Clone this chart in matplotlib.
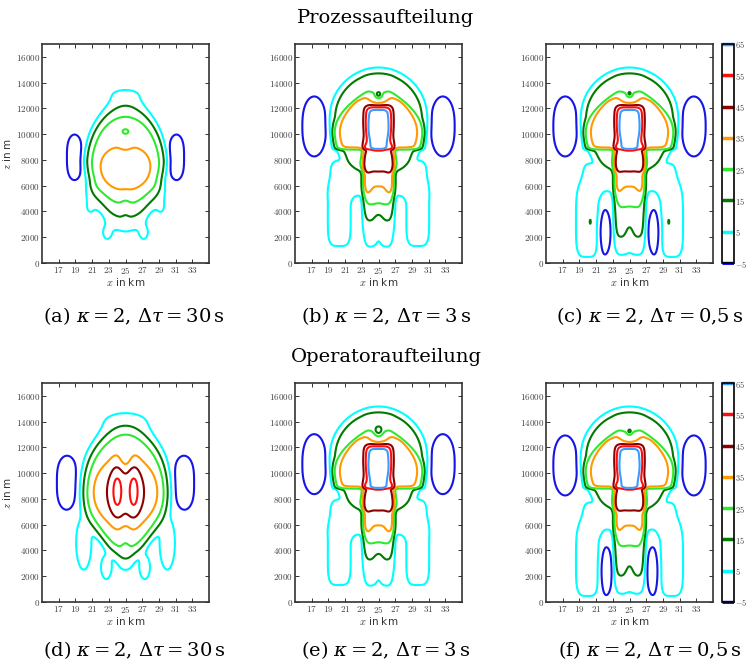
import numpy as np
import matplotlib
matplotlib.use("Agg")
import matplotlib.pyplot as plt
from matplotlib.ticker import FixedLocator, FuncFormatter

plt.rcParams['mathtext.fontset'] = 'cm'

# ---------------- data ----------------
LEVELS = [-5, 5, 15, 25, 35, 45, 55, 65]
LEVEL_COLORS = ['#1515e6', '#00ffff', '#007a00', '#2eea2e', '#ff9a00', '#8e0000', '#ff0d0d', '#3a9cff']
X_TICKS = [17, 19, 21, 23, 25, 27, 29, 31, 33]
Z_TICKS = [0, 2000, 4000, 6000, 8000, 10000, 12000, 14000, 16000]
X_RANGE = [15, 35]
Z_RANGE = [0, 17000]
X_CENTER = 25
ROW_TITLES = ['Prozessaufteilung', 'Operatoraufteilung']
CAPTIONS = [r'(a) $\kappa = 2$, $\Delta\tau = 30\,\mathrm{s}$',
            r'(b) $\kappa = 2$, $\Delta\tau = 3\,\mathrm{s}$',
            r'(c) $\kappa = 2$, $\Delta\tau = 0{,}5\,\mathrm{s}$',
            r'(d) $\kappa = 2$, $\Delta\tau = 30\,\mathrm{s}$',
            r'(e) $\kappa = 2$, $\Delta\tau = 3\,\mathrm{s}$',
            r'(f) $\kappa = 2$, $\Delta\tau = 0{,}5\,\mathrm{s}$']

# Each field is a sum of mirrored blobs:
# amplitude, x offset from centre (km), height (m), x scale (km),
# z scale below / above (m), x power, z power, outer power,
# taper (>0 narrows above the centre, <0 narrows below)
# (a) Prozessaufteilung, 30 s
A_AMP = [20, 12, 8, 5.5, -3, -4, -10, 6, 4, 6, -10]
A_DX  = [0, 0, 0, 0, 0, 0, 0, 2.2, 0, 4.2, 6.1]
A_Z0  = [7900, 8000, 7300, 13100, 4300, 9200, 10200, 2400, 2700, 4900, 8200]
A_SX  = [5.0, 4.2, 3.5, 4.0, 0.6, 0.7, 0.5, 1.1, 1.2, 1.0, 1.1]
A_SZ  = [4880, 3580, 1800, 900, 1200, 500, 250, 1200, 900, 1400, 2000]
A_SZU = [4650, 3580, 1800, 900, 1200, 500, 250, 1200, 900, 1400, 2000]
A_PX  = [2, 2, 2, 2, 2, 2, 2, 2, 2, 2, 2]
A_PZ  = [1.5, 2, 2, 2, 2, 2, 2, 2, 2, 4, 3]
A_Q   = [6, 3, 2, 1, 1, 1, 1, 1, 1, 1, 1]
A_TP  = [0, 0, 0, 0, 0, 0, 0, 0, 0, 0, 0]
# (b) Prozessaufteilung, 3 s
B_AMP = [18, 19, 30, 12, 36, 10, 10, -5, -9, -14, -14]
B_DX  = [0, 0, 0, 0, 0, 3.5, 4.7, 0, 0, 0, 7.7]
B_Z0  = [11000, 9800, 11300, 8500, 6300, 6600, 3600, 3000, 12750, 13100, 10600]
B_SX  = [5.9, 5.5, 1.6, 1.9, 1.9, 2.4, 1.5, 0.55, 1.0, 0.35, 1.4]
B_SZ  = [4100, 1000, 2200, 900, 3300, 1500, 2500, 1200, 550, 230, 2300]
B_SZU = [4100, 3500, 900, 900, 3300, 1500, 2500, 1200, 550, 230, 2300]
B_PX  = [2, 16, 4, 6, 8, 6, 4, 2, 2, 2, 2]
B_PZ  = [2, 12, 4, 2, 1.6, 4, 4, 2, 2, 2, 2.5]
B_Q   = [8, 1, 1, 1, 1, 1, 1, 1, 1, 1, 1]
B_TP  = [0, 0.72, -0.4, 0, 0, 0, 0, 0, 0, 0, 0]
# (c) Prozessaufteilung, 0,5 s
C_AMP = [18, 19, 30, 12, 36, 8, 7, 11, -5, -9, -12, -14, -12, 6]
C_DX  = [0, 0, 0, 0, 0, 0, 3.5, 5.0, 0, 0, 0, 7.7, 3.0, 4.7]
C_Z0  = [11000, 9800, 11300, 8500, 6300, 2500, 6600, 3200, 2400, 12750, 13150, 10600, 2400, 3200]
C_SX  = [5.9, 5.5, 1.6, 1.9, 1.9, 1.9, 2.4, 1.5, 0.55, 1.0, 0.28, 1.4, 0.8, 0.1]
C_SZ  = [4100, 1000, 2200, 900, 3300, 1500, 1500, 2900, 1200, 550, 200, 2300, 1900, 250]
C_SZU = [4100, 3500, 900, 900, 3300, 1500, 1500, 2900, 1200, 550, 200, 2300, 1900, 250]
C_PX  = [2, 16, 4, 6, 8, 8, 6, 4, 2, 2, 2, 2, 2, 2]
C_PZ  = [2, 12, 4, 2, 1.6, 2, 4, 4, 2, 2, 2, 2.5, 2, 2]
C_Q   = [8, 1, 1, 1, 1, 1, 1, 1, 1, 1, 1, 1, 1, 1]
C_TP  = [0, 0.72, -0.4, 0, 0, 0, 0, 0, 0, 0, 0, 0, 0, 0]
# (d) Operatoraufteilung, 30 s
D_AMP = [33, 12, 14, 7, 10, 9, 7, -4, -6, -12]
D_DX  = [0, 0, 1.0, 0, 5.0, 2.3, 0, 0, 0, 7.0]
D_Z0  = [8700, 8500, 8600, 14000, 4600, 2700, 3000, 4500, 10900, 9250]
D_SX  = [5.2, 3.8, 0.8, 4.0, 1.1, 0.8, 1.0, 0.6, 0.8, 1.3]
D_SZ  = [5300, 2400, 2000, 1100, 2500, 1200, 800, 1500, 900, 2200]
D_SZU = [4800, 2400, 2000, 1100, 2500, 1200, 800, 1500, 900, 2200]
D_PX  = [2, 2, 2, 2, 2, 2, 2, 2, 2, 2]
D_PZ  = [2, 2, 2, 2, 2, 2, 2, 2, 2, 3]
D_Q   = [4, 2, 1, 1, 1, 1, 1, 1, 1, 1]
D_TP  = [-0.4, 0, 0, 0, 0, 0, 0, 0, 0, 0]
# (e) Operatoraufteilung, 3 s
E_AMP = [18, 19, 30, 12, 36, 10, 10, -5, -9, -14, -14]
E_DX  = [0, 0, 0, 0, 0, 3.5, 4.7, 0, 0, 0, 7.7]
E_Z0  = [11000, 9800, 11300, 8500, 6300, 6600, 3600, 3000, 12750, 13300, 10700]
E_SX  = [5.9, 5.5, 1.6, 1.9, 1.9, 2.4, 1.5, 0.55, 1.0, 0.45, 1.4]
E_SZ  = [4100, 1000, 2200, 900, 3300, 1500, 2500, 1200, 550, 300, 2300]
E_SZU = [4100, 3500, 900, 900, 3300, 1500, 2500, 1200, 550, 300, 2300]
E_PX  = [2, 16, 4, 6, 8, 6, 4, 2, 2, 2, 2]
E_PZ  = [2, 12, 4, 2, 1.6, 4, 4, 2, 2, 2, 2.5]
E_Q   = [8, 1, 1, 1, 1, 1, 1, 1, 1, 1, 1]
E_TP  = [0, 0.72, -0.4, 0, 0, 0, 0, 0, 0, 0, 0]
# (f) Operatoraufteilung, 0,5 s
F_AMP = [18, 19, 30, 12, 36, 8, 7, 11, -5, -9, -12, -14, -12]
F_DX  = [0, 0, 0, 0, 0, 0, 3.5, 5.0, 0, 0, 0, 7.7, 2.8]
F_Z0  = [11000, 9800, 11300, 8500, 6300, 2500, 6600, 3200, 2400, 12750, 13250, 10600, 2400]
F_SX  = [5.9, 5.5, 1.6, 1.9, 1.9, 1.9, 2.4, 1.5, 0.55, 1.0, 0.25, 1.4, 0.8]
F_SZ  = [4100, 1000, 2200, 900, 3300, 1500, 1500, 2900, 1200, 550, 180, 2300, 2000]
F_SZU = [4100, 3500, 900, 900, 3300, 1500, 1500, 2900, 1200, 550, 180, 2300, 2000]
F_PX  = [2, 16, 4, 6, 8, 8, 6, 4, 2, 2, 2, 2, 2]
F_PZ  = [2, 12, 4, 2, 1.6, 2, 4, 4, 2, 2, 2, 2.5, 2]
F_Q   = [8, 1, 1, 1, 1, 1, 1, 1, 1, 1, 1, 1, 1]
F_TP  = [0, 0.72, -0.4, 0, 0, 0, 0, 0, 0, 0, 0, 0, 0]

PANELS = [
    (A_AMP, A_DX, A_Z0, A_SX, A_SZ, A_SZU, A_PX, A_PZ, A_Q, A_TP),
    (B_AMP, B_DX, B_Z0, B_SX, B_SZ, B_SZU, B_PX, B_PZ, B_Q, B_TP),
    (C_AMP, C_DX, C_Z0, C_SX, C_SZ, C_SZU, C_PX, C_PZ, C_Q, C_TP),
    (D_AMP, D_DX, D_Z0, D_SX, D_SZ, D_SZU, D_PX, D_PZ, D_Q, D_TP),
    (E_AMP, E_DX, E_Z0, E_SX, E_SZ, E_SZU, E_PX, E_PZ, E_Q, E_TP),
    (F_AMP, F_DX, F_Z0, F_SX, F_SZ, F_SZU, F_PX, F_PZ, F_Q, F_TP),
]

xg = np.linspace(X_RANGE[0], X_RANGE[1], 501)
zg = np.linspace(Z_RANGE[0], Z_RANGE[1], 511)
X, Z = np.meshgrid(xg, zg)


def build_field(amp, dx, z0, sx, sz, szu, px, pz, q, tp):
    F = np.zeros_like(X)
    for a, d, zc, s1, s2d, s2u, p1, p2, qq, t in zip(amp, dx, z0, sx, sz, szu, px, pz, q, tp):
        dz = Z - zc
        zn = np.abs(dz) / np.where(dz >= 0, s2u, s2d)
        if t > 0:
            fac = 1 - t * np.where(dz > 0, zn, 0) ** 2
        elif t < 0:
            fac = 1 + t * np.where(dz < 0, zn, 0) ** 2
        else:
            fac = np.ones_like(Z)
        sxe = s1 * np.clip(fac, 0.15, None)
        for sgn in ((1, -1) if d else (1,)):
            u = np.abs((X - X_CENTER - sgn * d) / sxe) ** p1 + zn ** p2
            F += a * np.exp(-u ** qq)
    return F


# ---------------- figure ----------------
W, H = 746, 668
fig = plt.figure(figsize=(W / 100, H / 100), dpi=100)

lefts = [42, 295, 546]
tops = [44, 383]
aw, ah = 167, 219

tick_fmt = FuncFormatter(lambda v, p: r'$%d$' % v)

for i, params in enumerate(PANELS):
    r, c = divmod(i, 3)
    ax = fig.add_axes([lefts[c] / W, 1 - (tops[r] + ah) / H, aw / W, ah / H])
    F = build_field(*params)
    cs = ax.contour(X, Z, F, levels=LEVELS, colors=LEVEL_COLORS, linewidths=1.5)
    ax.set_xlim(X_RANGE)
    ax.set_ylim(Z_RANGE)
    ax.xaxis.set_major_locator(FixedLocator(X_TICKS))
    ax.yaxis.set_major_locator(FixedLocator(Z_TICKS))
    ax.xaxis.set_major_formatter(tick_fmt)
    ax.yaxis.set_major_formatter(tick_fmt)
    ax.tick_params(direction='in', top=True, right=True, length=3, width=0.7,
                   labelsize=6.5, labelcolor='#444444', colors='#333333', pad=1.5)
    for sp in ax.spines.values():
        sp.set_linewidth(1.2)
        sp.set_color('#333333')
    ax.set_xlabel(r'$x$ in km', fontsize=7.5, labelpad=0, color='#333333')
    if c == 0:
        ax.set_ylabel(r'$z$ in m', fontsize=7.5, labelpad=2, color='#333333')
    if c == 2:
        cax = fig.add_axes([722 / W, 1 - (tops[r] + ah) / H, 12 / W, ah / H])
        cb = fig.colorbar(cs, cax=cax)
        cb.set_ticks(LEVELS)
        cb.ax.yaxis.set_major_formatter(tick_fmt)
        cb.ax.tick_params(direction='in', length=3, width=0.7, labelsize=6,
                          labelcolor='#444444', pad=0.5)
        cb.outline.set_linewidth(1.2)
        for ln in cb.ax.collections:
            ln.set_linewidth(2.5)

for r, title in enumerate(ROW_TITLES):
    fig.text(386 / W, 1 - [18, 357][r] / H, title, ha='center', va='center',
             fontsize=14, family='DejaVu Serif')

cap_x = [134, 386, 650]
cap_y = [316, 650]
for i, cap in enumerate(CAPTIONS):
    r, c = divmod(i, 3)
    fig.text(cap_x[c] / W, 1 - cap_y[r] / H, cap, ha='center', va='center',
             fontsize=14, family='DejaVu Serif', math_fontfamily='dejavuserif')

fig.savefig('out.png', dpi=100)
